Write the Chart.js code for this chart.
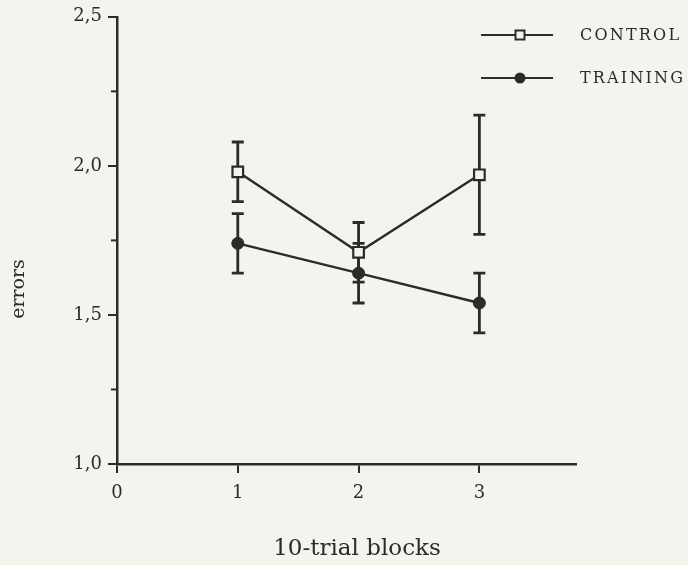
<!DOCTYPE html>
<html>
<head>
<meta charset="utf-8">
<script src="https://cdn.jsdelivr.net/npm/chart.js@4.4.0/dist/chart.umd.min.js"></script>
<style>
  html, body { margin: 0; padding: 0; background: #f4f4ee; }
  #wrap { width: 688px; height: 565px; }
</style>
</head>
<body>
<div id="wrap"><canvas id="c" width="688" height="565"></canvas></div>
<script>
// ---- data ----
const blocks = [1, 2, 3];
const controlErrors = [1.98, 1.71, 1.97];
const controlSE = [0.10, 0.10, 0.20];
const trainingErrors = [1.74, 1.64, 1.54];
const trainingSE = [0.10, 0.10, 0.10];
const seriesLabels = ['CONTROL', 'TRAINING'];
const xTickValues = [0, 1, 2, 3];
const yTickValues = [1.0, 1.25, 1.5, 1.75, 2.0, 2.25, 2.5];
const yLabelledTicks = [1.0, 1.5, 2.0, 2.5];
const xTitle = '10-trial blocks';
const yTitle = 'errors';

const INK = '#2b2b2b';
const BG = '#f4f4ee';
const SERIF = "'DejaVu Serif', 'Liberation Serif', serif";

const isLabelled = v => yLabelledTicks.some(t => Math.abs(t - v) < 1e-9);

const bgPlugin = {
  id: 'bg',
  beforeDraw(chart) {
    const ctx = chart.ctx;
    ctx.save();
    ctx.fillStyle = BG;
    ctx.fillRect(0, 0, chart.width, chart.height);
    ctx.restore();
  }
};

const extrasPlugin = {
  id: 'extras',
  beforeDatasetsDraw(chart) {
    const ctx = chart.ctx;
    const xs = chart.scales.x, ys = chart.scales.y;
    const seList = [controlSE, trainingSE];
    chart.data.datasets.forEach((ds, i) => {
      ctx.save();
      ctx.strokeStyle = INK;
      ctx.lineWidth = 2.8;
      ds.data.forEach((p, j) => {
        const px = xs.getPixelForValue(p.x);
        const top = ys.getPixelForValue(p.y + seList[i][j]);
        const bot = ys.getPixelForValue(p.y - seList[i][j]);
        ctx.beginPath();
        ctx.moveTo(px, top); ctx.lineTo(px, bot);
        ctx.moveTo(px - 6, top); ctx.lineTo(px + 6, top);
        ctx.moveTo(px - 6, bot); ctx.lineTo(px + 6, bot);
        ctx.stroke();
      });
      ctx.restore();
    });
  },
  afterDraw(chart) {
    const ctx = chart.ctx;
    const ys = chart.scales.y;
    const area = chart.chartArea;
    ctx.save();
    ctx.strokeStyle = INK;
    ctx.lineWidth = 2;
    yTickValues.filter(v => !isLabelled(v)).forEach(v => {
      const py = ys.getPixelForValue(v);
      ctx.beginPath();
      ctx.moveTo(area.left - 6, py);
      ctx.lineTo(area.left, py);
      ctx.stroke();
    });
    ctx.fillStyle = INK;
    ctx.textAlign = 'center';
    ctx.textBaseline = 'middle';
    // x axis title
    ctx.font = "23px " + SERIF;
    ctx.fillText(xTitle, 357, 549);
    // y axis title
    ctx.font = "19px " + SERIF;
    ctx.translate(19, 289);
    ctx.rotate(-Math.PI / 2);
    ctx.fillText(yTitle, 0, 0);
    ctx.restore();

    // legend
    ctx.save();
    const rows = [35, 78];
    chart.data.datasets.forEach((ds, i) => {
      const y = rows[i];
      ctx.strokeStyle = INK;
      ctx.lineWidth = 2.2;
      ctx.beginPath();
      ctx.moveTo(481, y); ctx.lineTo(553, y);
      ctx.stroke();
      const mx = 520;
      if (ds.pointStyle === 'rect') {
        ctx.fillStyle = BG;
        ctx.lineWidth = 2;
        ctx.fillRect(mx - 4.5, y - 4.5, 9, 9);
        ctx.strokeRect(mx - 4.5, y - 4.5, 9, 9);
      } else {
        ctx.fillStyle = INK;
        ctx.beginPath();
        ctx.arc(mx, y, 5.5, 0, Math.PI * 2);
        ctx.fill();
      }
      ctx.fillStyle = INK;
      ctx.font = "16px " + SERIF;
      ctx.textAlign = 'left';
      ctx.textBaseline = 'middle';
      try { ctx.letterSpacing = '2.2px'; } catch (e) {}
      ctx.fillText(ds.label, 580, y + 1);
      try { ctx.letterSpacing = '0px'; } catch (e) {}
    });
    ctx.restore();
  }
};

const toPts = (vals) => vals.map((v, i) => ({ x: blocks[i], y: v }));

new Chart(document.getElementById('c'), {
  type: 'line',
  data: {
    datasets: [
      {
        label: seriesLabels[0],
        data: toPts(controlErrors),
        borderColor: INK,
        borderWidth: 2.4,
        pointStyle: 'rect',
        pointRadius: 7.5,
        pointBackgroundColor: BG,
        pointBorderColor: INK,
        pointBorderWidth: 2.2,
        tension: 0,
        fill: false
      },
      {
        label: seriesLabels[1],
        data: toPts(trainingErrors),
        borderColor: INK,
        borderWidth: 2.4,
        pointStyle: 'circle',
        pointRadius: 6,
        pointBackgroundColor: INK,
        pointBorderColor: INK,
        pointBorderWidth: 1,
        tension: 0,
        fill: false
      }
    ]
  },
  options: {
    responsive: false,
    animation: false,
    devicePixelRatio: 1,
    layout: { padding: { left: 0, right: 112, top: 14, bottom: 0 } },
    plugins: { legend: { display: false }, tooltip: { enabled: false } },
    scales: {
      x: {
        type: 'linear',
        min: 0,
        max: 3.8,
        afterBuildTicks(scale) { scale.ticks = xTickValues.map(v => ({ value: v })); },
        afterFit(scale) { scale.height = 101; },
        border: { display: true, color: INK, width: 2.5 },
        grid: { display: true, drawOnChartArea: false, drawTicks: true, tickLength: 9, color: INK, lineWidth: 2 },
        ticks: { color: INK, font: { family: SERIF, size: 18 }, padding: 10, callback: v => String(v) },
        title: { display: false }
      },
      y: {
        type: 'linear',
        min: 1.0,
        max: 2.5,
        afterBuildTicks(scale) { scale.ticks = yTickValues.map(v => ({ value: v })); },
        afterFit(scale) { scale.width = 117; },
        border: { display: true, color: INK, width: 2.5 },
        grid: {
          display: true, drawOnChartArea: false, drawTicks: true, tickLength: 9,
          color: ctx => (ctx.tick && isLabelled(ctx.tick.value)) ? INK : 'rgba(0,0,0,0)',
          lineWidth: 2
        },
        ticks: {
          color: INK, font: { family: SERIF, size: 18 }, padding: 6,
          callback: v => isLabelled(v) ? v.toFixed(1).replace('.', ',') : ''
        }
      }
    }
  },
  plugins: [bgPlugin, extrasPlugin]
});
</script>
</body>
</html>
